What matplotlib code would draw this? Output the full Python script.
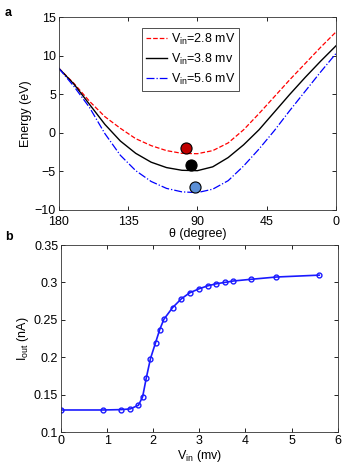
import matplotlib
matplotlib.use('Agg')
import matplotlib.pyplot as plt
from matplotlib.ticker import FuncFormatter

plt.rcParams['font.family'] = ['Liberation Sans', 'DejaVu Sans']
plt.rcParams['mathtext.fontset'] = 'custom'
plt.rcParams['mathtext.rm'] = 'Liberation Sans'
plt.rcParams['font.size'] = 9

# ---------- data: panel a ----------
theta = [180, 170, 160, 150, 140, 130, 120, 110, 100, 90,
         80, 70, 60, 50, 40, 30, 20, 10, 0]
e_28 = [8.4, 6.4, 4.1, 2.1, 0.6, -0.75, -1.65, -2.3, -2.65, -2.7,
        -2.3, -1.3, 0.4, 2.5, 4.7, 6.9, 9.0, 11.1, 13.1]
e_38 = [8.4, 6.3, 3.7, 1.1, -1.05, -2.65, -3.8, -4.5, -4.85, -4.9,
        -4.4, -3.2, -1.55, 0.4, 2.7, 5.0, 7.2, 9.3, 11.3]
e_56 = [8.4, 6.0, 3.3, -0.1, -2.9, -4.9, -6.3, -7.2, -7.65, -7.75,
        -7.3, -6.2, -4.3, -2.1, 0.3, 2.9, 5.4, 7.9, 10.3]
labels_a = [r'V$_{\rm in}$=2.8 mV', r'V$_{\rm in}$=3.8 mv', r'V$_{\rm in}$=5.6 mV']

# balls sitting in the wells
ball_theta = [97.4, 94.3, 91.5]
ball_e = [-2.0, -4.15, -7.0]
ball_colors = ['#c00000', '#000000', '#5b8fd6']

# ---------- data: panel b ----------
v_in = [0, 0.92, 1.30, 1.50, 1.68, 1.77, 1.85, 1.94, 2.05, 2.14, 2.23,
        2.42, 2.61, 2.79, 2.99, 3.18, 3.36, 3.56, 3.74, 4.11, 4.67, 5.60]
i_out = [0.1298, 0.1298, 0.1303, 0.1312, 0.1362, 0.1474, 0.1728, 0.1984,
         0.2196, 0.2370, 0.2508, 0.2665, 0.2782, 0.2862, 0.2915, 0.2955,
         0.2982, 0.3002, 0.3020, 0.3042, 0.3073, 0.3098]

fig = plt.figure(figsize=(3.52, 4.66), dpi=100)
ax1 = fig.add_axes([0.1668, 0.5494, 0.7877, 0.4135])
ax2 = fig.add_axes([0.1733, 0.0723, 0.7861, 0.4019])


def matlab_style(ax):
    ax.tick_params(direction='in', top=True, right=True, length=3, width=0.6,
                   pad=2, labelsize=9)
    for s in ax.spines.values():
        s.set_linewidth(0.6)
        s.set_color('#333333')


# ---------- panel a ----------
ax1.plot(theta, e_28, '--', color='red', lw=0.9, label=labels_a[0])
ax1.plot(theta, e_38, '-', color='black', lw=1.0, label=labels_a[1])
ax1.plot(theta, e_56, '-.', color='blue', lw=0.9, label=labels_a[2])
for t, e, c in zip(ball_theta, ball_e, ball_colors):
    ax1.plot(t, e, 'o', ms=8, mfc=c, mec='black', mew=0.8, zorder=5)
ax1.set_xlim(180, 0)
ax1.set_ylim(-10, 15)
ax1.set_xticks([180, 135, 90, 45, 0])
ax1.set_yticks([-10, -5, 0, 5, 10, 15])
ax1.set_xlabel('θ (degree)', labelpad=0)
ax1.set_ylabel('Energy (eV)', labelpad=2)
matlab_style(ax1)
ax1.tick_params(axis='x', pad=4.5)
leg = ax1.legend(loc='upper left', bbox_to_anchor=(0.3, 0.945), fontsize=9,
                 frameon=True, fancybox=False, handlelength=1.7,
                 handletextpad=0.3, borderpad=0.3, labelspacing=0.4,
                 borderaxespad=0)
leg.get_frame().set_edgecolor('black')
leg.get_frame().set_linewidth(0.6)

# ---------- panel b ----------
ax2.plot(v_in, i_out, '-o', color='#1a1aff', lw=1.2, ms=3.5, mfc='none', mew=1.0)
ax2.set_xlim(0, 6)
ax2.set_ylim(0.1, 0.35)
ax2.set_xticks(range(0, 7))
ax2.set_yticks([0.1, 0.15, 0.2, 0.25, 0.3, 0.35])
ax2.yaxis.set_major_formatter(FuncFormatter(lambda v, p: '%g' % round(v, 2)))
ax2.set_xlabel(r'V$_{\rm in}$ (mv)', labelpad=1)
ax2.set_ylabel(r'I$_{\rm out}$ (nA)', labelpad=2)
matlab_style(ax2)

fig.text(0.014, 0.985, 'a', fontsize=9, fontweight='bold', va='top')
fig.text(0.014, 0.505, 'b', fontsize=9, fontweight='bold', va='top')

fig.savefig('out.png', dpi=100)
